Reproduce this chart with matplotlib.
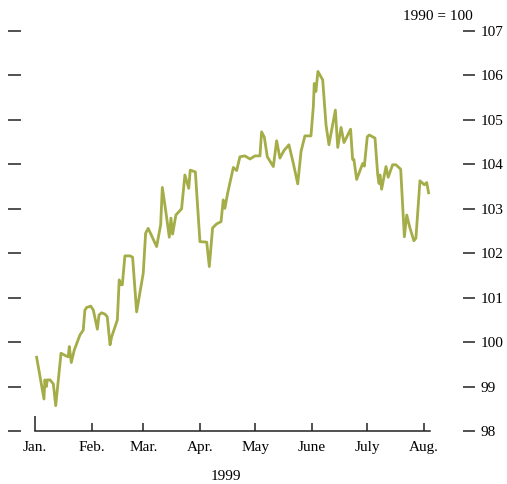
import matplotlib.pyplot as plt
from matplotlib.ticker import FixedLocator, FixedFormatter

plt.rcParams['font.family'] = ['Liberation Serif', 'DejaVu Serif']

# days since Jan. 1, 1999 and index level (1990 = 100)
days = [0.9, 4.9, 5.4, 6.2, 6.7, 8.2, 10.0, 11.3, 14.2, 16.9, 18.1, 18.7, 19.8, 21.4,
        24.5, 26.3, 27.2, 28.2, 30.4, 31.8, 34.0, 34.9, 36.3, 38.1, 39.4, 40.9, 41.8,
        44.9, 45.9, 46.9, 47.6, 49.0, 51.8, 53.2, 55.4, 59.0, 60.3, 61.7, 66.3, 68.5,
        69.4, 71.2, 73.2, 74.1, 75.0, 76.8, 79.9, 81.7, 83.8, 84.6, 87.4, 89.9, 93.6,
        95.0, 96.8, 99.0, 101.4, 102.6, 103.5, 105.0, 108.1, 109.9, 111.7, 114.4, 117.2,
        119.9, 122.6, 123.5, 125.0, 126.6, 129.9, 131.7, 133.5, 135.7, 138.4, 140.8,
        143.2, 145.0, 147.1, 150.4, 151.7, 152.2, 153.1, 154.2, 156.8, 158.6, 160.2,
        163.7, 165.0, 166.8, 168.4, 172.0, 173.1, 173.8, 175.3, 178.6, 179.5, 181.1,
        182.2, 185.3, 186.8, 187.5, 188.0, 188.9, 191.3, 192.5, 194.9, 196.7, 199.3,
        201.3, 202.6, 204.4, 206.5, 207.6, 209.8, 212.2, 213.5, 214.5]
index = [99.66, 98.72, 99.15, 99.00, 99.15, 99.15, 99.06, 98.57, 99.75, 99.69, 99.67,
         99.90, 99.54, 99.82, 100.16, 100.27, 100.72, 100.78, 100.81, 100.72, 100.29,
         100.61, 100.66, 100.63, 100.57, 99.94, 100.12, 100.50, 101.40, 101.29, 101.29,
         101.94, 101.94, 101.91, 100.68, 101.55, 102.45, 102.56, 102.15, 102.64, 103.48,
         102.97, 102.36, 102.79, 102.43, 102.86, 103.00, 103.76, 103.46, 103.87, 103.83,
         102.26, 102.25, 101.70, 102.57, 102.66, 102.71, 103.20, 103.01, 103.35, 103.93,
         103.86, 104.17, 104.19, 104.12, 104.19, 104.19, 104.73, 104.61, 104.17, 103.95,
         104.53, 104.14, 104.31, 104.44, 104.02, 103.56, 104.29, 104.64, 104.64, 105.30,
         105.82, 105.64, 106.09, 105.90, 104.89, 104.44, 105.22, 104.38, 104.83, 104.49,
         104.79, 104.11, 104.11, 103.66, 104.02, 103.96, 104.62, 104.66, 104.59, 103.76,
         103.57, 103.76, 103.44, 103.95, 103.71, 103.99, 103.99, 103.89, 102.37, 102.86,
         102.56, 102.28, 102.34, 103.63, 103.54, 103.59, 103.36]

month_starts = [0, 31, 59, 90, 120, 151, 181, 212]
month_labels = ['Jan.', 'Feb.', 'Mar.', 'Apr.', 'May', 'June', 'July', 'Aug.']
yticks = [98, 99, 100, 101, 102, 103, 104, 105, 106, 107]

fig = plt.figure(figsize=(5.07, 4.84), dpi=100)
ax = fig.add_axes([8 / 507, 53 / 484, 467 / 507, 400 / 484])

ax.plot(days, index, color='#a4ad47', lw=2.0, solid_joinstyle='round')

ax.set_xlim(-14.7, 239.8)
ax.set_ylim(98, 107)

for s in ['top', 'left', 'right']:
    ax.spines[s].set_visible(False)
ax.spines['bottom'].set_bounds(0, 215.3)
ax.spines['bottom'].set_linewidth(1.1)
ax.spines['bottom'].set_color('#222222')

# Jan. tick is taller than the others
ax.xaxis.set_major_locator(FixedLocator(month_starts[:1]))
ax.xaxis.set_major_formatter(FixedFormatter(month_labels[:1]))
ax.xaxis.set_minor_locator(FixedLocator(month_starts[1:]))
ax.xaxis.set_minor_formatter(FixedFormatter(month_labels[1:]))
ax.tick_params(axis='x', which='major', direction='in', length=11, width=1.1,
               color='#222222', labelsize=11, pad=7)
ax.tick_params(axis='x', which='minor', direction='in', length=6, width=1.1,
               color='#222222', labelsize=11, pad=7)

ax.set_yticks(yticks)
ax.tick_params(axis='y', which='both', direction='in', length=9, width=1.1,
               color='#222222', left=True, right=True, labelleft=False,
               labelright=True, labelsize=11, pad=4)

fig.text(226 / 507, 1 - 476 / 484, '1999', ha='center', va='center', fontsize=11)
fig.text(473 / 507, 1 - 17 / 484, '1990 = 100', ha='right', va='center', fontsize=11)

fig.savefig('out.png', dpi=100)
